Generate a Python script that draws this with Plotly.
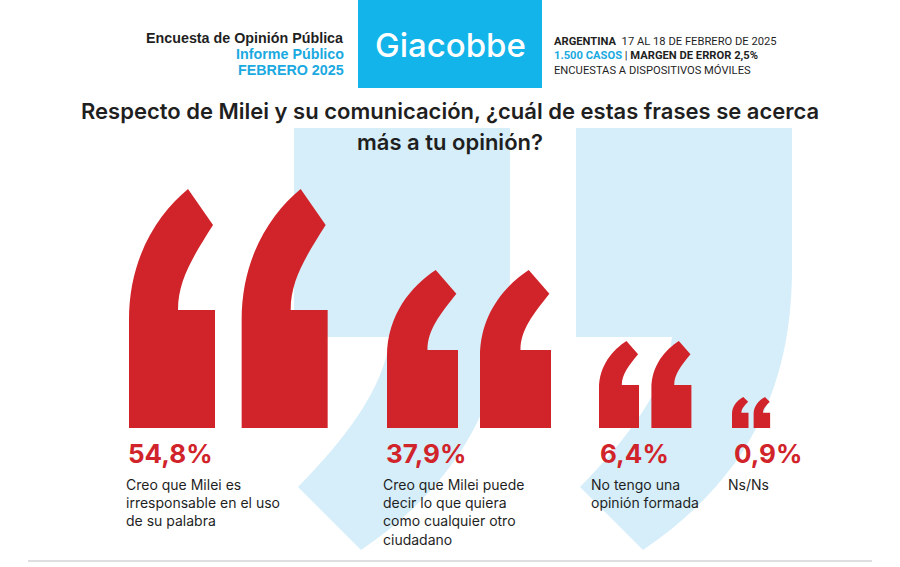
import plotly.graph_objects as go

# ---------------- data ----------------
categories = [
    "Creo que Milei es<br>irresponsable en el uso<br>de su palabra",
    "Creo que Milei puede<br>decir lo que quiera<br>como cualquier otro<br>ciudadano",
    "No tengo una<br>opinión formada",
    "Ns/Ns",
]
values = [54.8, 37.9, 6.4, 0.9]

title_lines = [
    "Respecto de Milei y su comunicación, ¿cuál de estas frases se acerca",
    "más a tu opinión?",
]
header_left = ["Encuesta de Opinión Pública", "Informe Público", "FEBRERO 2025"]
brand = "Giacobbe"

# ---------------- style / layout ----------------
W, H = 900, 567
RED = "#d1232a"
CYAN = "#12b4e9"
CYAN_TXT = "#1aa9e0"
LIGHT = "#d5eef9"
DARK = "#1f1f1f"

icon_left = [129, 387, 599, 732]
icon_w = [86, 71, 40, 16.5]
icon_h = [239, 158, 87, 31]
baseline = 428
value_left = [126, 384, 598, 732]
desc_left = [124, 381, 589, 726]


def glyph_path(x0, yb, w, h):
    def P(u, v):
        return f"{x0 + u * w:.2f},{yb - v * h:.2f}"
    return (f"M{P(0, 0)} L{P(0, 0.452)} C{P(0, 0.72)} {P(0.35, 0.9)} {P(0.686, 1)} "
            f"L{P(0.977, 0.849)} C{P(0.75, 0.72)} {P(0.57, 0.62)} {P(0.57, 0.494)} "
            f"L{P(1, 0.494)} L{P(1, 0)} Z")


def closing_path(x0, top=128):
    def P(dx, y):
        return f"{x0 + dx:.2f},{y:.2f}"
    return (f"M{P(0, top)} L{P(216, top)} L{P(216, 268)} "
            f"C{P(216, 370)} {P(185, 470)} {P(67, 550)} L{P(4, 487)} "
            f"C{P(50, 440)} {P(90, 390)} {P(96, 337)} L{P(0, 337)} Z")


fig = go.Figure()
fig.add_trace(go.Scatter(x=[0, W], y=[0, H], mode="markers",
                         marker=dict(opacity=0), hoverinfo="skip", showlegend=False))

shapes = []
# background light-blue closing quotes
for x0 in (294, 576):
    shapes.append(dict(type="path", path=closing_path(x0), xref="x", yref="y",
                       fillcolor=LIGHT, line=dict(width=0), layer="below"))

# header box
shapes.append(dict(type="rect", x0=358, x1=542, y0=0, y1=88, xref="x", yref="y",
                   fillcolor=CYAN, line=dict(width=0), layer="below"))

# red opening quotes, one per category
for i, v in enumerate(values):
    w, h = icon_w[i], icon_h[i]
    for k in range(2):
        x0 = icon_left[i] + k * w * 1.31
        shapes.append(dict(type="path", path=glyph_path(x0, baseline, w, h),
                           xref="x", yref="y", fillcolor=RED, line=dict(width=0),
                           layer="below"))

# bottom rule
shapes.append(dict(type="line", x0=28, x1=872, y0=561, y1=561, xref="x", yref="y",
                   line=dict(color="#d3d3d3", width=1.5)))

ann = []
# header left
hl_colors = [DARK, CYAN_TXT, CYAN_TXT]
for j, (t, c) in enumerate(zip(header_left, hl_colors)):
    ann.append(dict(x=345, y=38 + 16 * j, text=f"<b>{t}</b>", xanchor="right",
                    yanchor="middle", showarrow=False, borderpad=0,
                    font=dict(family="Liberation Sans", size=14.3, color=c)))
ann.append(dict(x=450, y=45, text=brand, showarrow=False, xanchor="center",
                yanchor="middle",
                font=dict(family="Inter", size=33, color="white", weight=500)))
right_lines = [
    "<b>ARGENTINA</b>  17 AL 18 DE FEBRERO DE 2025",
    f"<b><span style='color:{CYAN_TXT}'>1.500 CASOS</span></b> | <b>MARGEN DE ERROR 2,5%</b>",
    "ENCUESTAS A DISPOSITIVOS MÓVILES",
]
for j, t in enumerate(right_lines):
    ann.append(dict(x=553, y=41 + 14.5 * j, text=t, xanchor="left", yanchor="middle",
                    showarrow=False, borderpad=0,
                    font=dict(family="Roboto", size=11.2, color=DARK)))
# title
for j, t in enumerate(title_lines):
    ann.append(dict(x=450, y=111 + 31 * j, text=t, xanchor="center", yanchor="middle",
                    showarrow=False,
                    font=dict(family="Inter", size=22, color=DARK, weight=600)))

# values and descriptions
for i, (cat, v) in enumerate(zip(categories, values)):
    label = f"{v:.1f}".replace(".", ",") + "%"
    ann.append(dict(x=value_left[i], y=453, text=f"<b>{label}</b>", xanchor="left",
                    yanchor="middle", showarrow=False,
                    font=dict(family="Inter", size=26, color=RED)))
    ann.append(dict(x=desc_left[i], y=474, text=cat, xanchor="left", yanchor="top",
                    align="left", showarrow=False,
                    font=dict(family="Inter", size=14, color=DARK)))

fig.update_layout(
    width=W, height=H,
    margin=dict(l=0, r=0, t=0, b=0),
    paper_bgcolor="white", plot_bgcolor="white",
    xaxis=dict(range=[0, W], visible=False, fixedrange=True),
    yaxis=dict(range=[H, 0], visible=False, fixedrange=True),
    shapes=shapes, annotations=ann, showlegend=False,
)

fig.write_html("out.html", config={"displayModeBar": False},
               post_script="document.body.style.margin='0';")
